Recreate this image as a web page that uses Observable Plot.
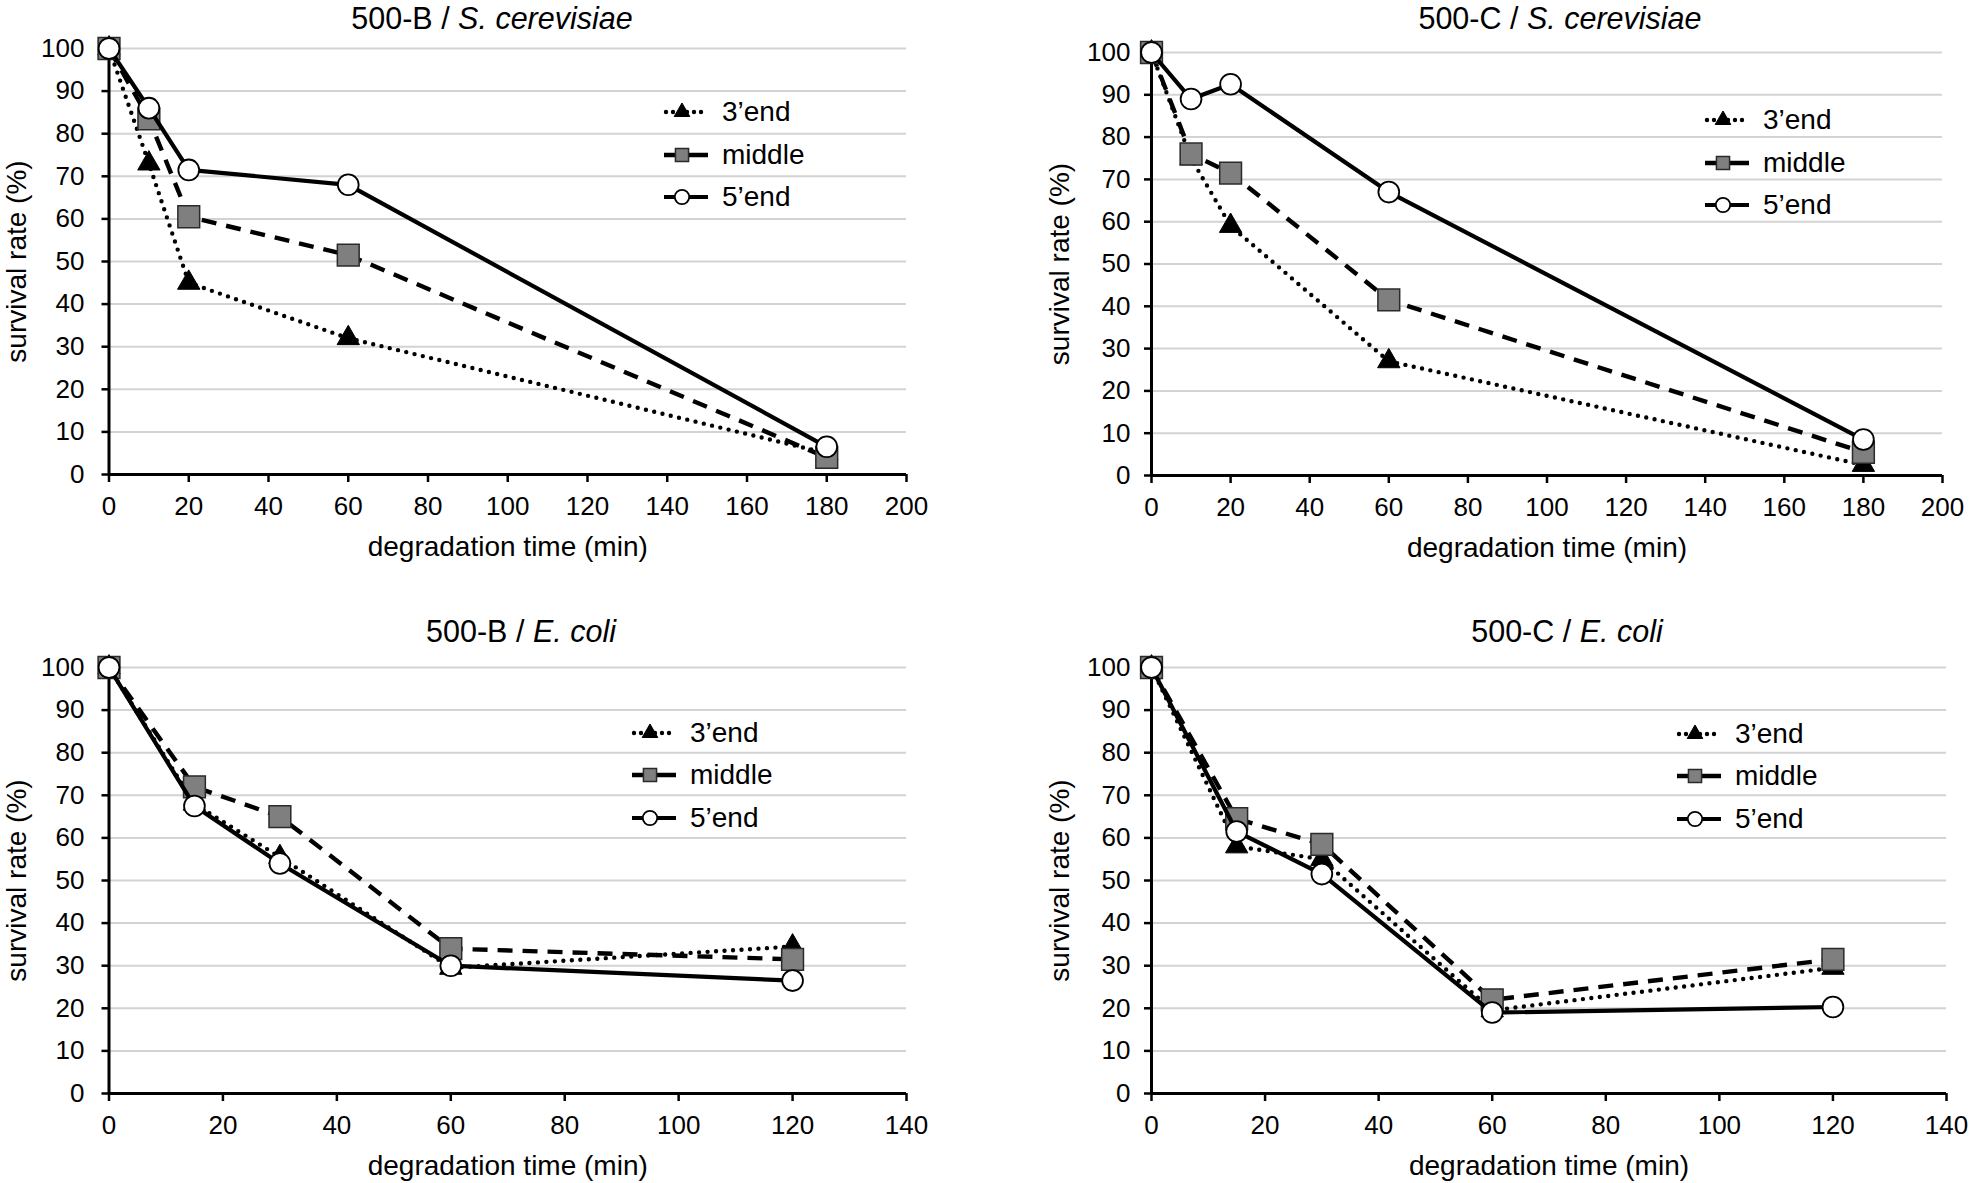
<!DOCTYPE html>
<html>
<head>
<meta charset="utf-8">
<script src="https://cdn.jsdelivr.net/npm/d3@7"></script>
<script src="https://cdn.jsdelivr.net/npm/@observablehq/plot@0.6"></script>
<style>
  html, body { margin: 0; padding: 0; background: #fff; }
  body { font-family: "Liberation Sans", Arial, sans-serif; color: #000; }
  #root { position: relative; width: 1970px; height: 1183px; overflow: hidden; background: #fff; }
  .panel { position: absolute; }
  .title { position: absolute; font-size: 30.5px; line-height: normal; white-space: nowrap; transform: translateX(-50%); }
  .legend { position: absolute; font-size: 28px; }
  .legend .row { display: flex; align-items: center; height: 42.5px; white-space: nowrap; }
  .legend svg { display: block; margin-right: 13px; overflow: visible; }
</style>
</head>
<body>
<div id="root"></div>
<script>
// ---------- data ----------
const seriesNames = ["3’end", "middle", "5’end"];
const yTicks = [0, 10, 20, 30, 40, 50, 60, 70, 80, 90, 100];
const xTicksSc = [0, 20, 40, 60, 80, 100, 120, 140, 160, 180, 200];
const xTicksEc = [0, 20, 40, 60, 80, 100, 120, 140];

const timesSc = [0, 10, 20, 60, 180];
const timesEc = [0, 15, 30, 60, 120];

// 500-B / S. cerevisiae
const bSc3 = [100, 73, 45, 32, 5];
const bScM = [100, 83.5, 60.5, 51.5, 4];
const bSc5 = [100, 86, 71.5, 68, 6.5];
// 500-C / S. cerevisiae
const cSc3 = [100, 75, 59, 27, 2.5];
const cScM = [100, 76, 71.5, 41.5, 5.5];
const cSc5 = [100, 89, 92.5, 67, 8.5];
// 500-B / E. coli
const bEc3 = [100, 68, 55.5, 29.5, 34.5];
const bEcM = [100, 72, 65, 34, 31.5];
const bEc5 = [100, 67.5, 54, 30, 26.5];
// 500-C / E. coli
const cEc3 = [100, 58, 55, 19.5, 29.5];
const cEcM = [100, 64.5, 58.5, 22, 31.5];
const cEc5 = [100, 61.5, 51.5, 19, 20.3];

const panelTitles = [
  ["500-B / ", "S. cerevisiae"],
  ["500-C / ", "S. cerevisiae"],
  ["500-B / ", "E. coli"],
  ["500-C / ", "E. coli"]
];
const xLabel = "degradation time (min)";
const yLabel = "survival rate (%)";

// ---------- layout (positions / sizes, kept apart from data) ----------
const layout = [
  {left: 0,   top: 0,   width: 985, height: 590, ml: 108.5, mr: 79, mt: 48, mb: 116, ypad: 17.5, ylab: 103, xlab: 81, tx: 492,  ttop: 1,   lx: 663,  ly: 112},
  {left: 985, top: 0,   width: 985, height: 590, ml: 166,   mr: 28, mt: 52, mb: 115, ypad: 14,   ylab: 102, xlab: 81, tx: 1560, ttop: 1,   lx: 1704, ly: 120},
  {left: 0,   top: 590, width: 985, height: 593, ml: 108.5, mr: 79, mt: 77, mb: 90,  ypad: 17.5, ylab: 103, xlab: 81, tx: 521,  ttop: 614, lx: 631,  ly: 732.5},
  {left: 985, top: 590, width: 985, height: 593, ml: 166,   mr: 24, mt: 77, mb: 90,  ypad: 14,   ylab: 102, xlab: 81, tx: 1567, ttop: 614, lx: 1676, ly: 733.5}
];

const panelData = [
  {times: timesSc, xTicks: xTicksSc, xmax: 200, s: [bSc3, bScM, bSc5]},
  {times: timesSc, xTicks: xTicksSc, xmax: 200, s: [cSc3, cScM, cSc5]},
  {times: timesEc, xTicks: xTicksEc, xmax: 140, s: [bEc3, bEcM, bEc5]},
  {times: timesEc, xTicks: xTicksEc, xmax: 140, s: [cEc3, cEcM, cEc5]}
];

// series styles
const styles = [
  {dash: "0 8.5", cap: "round", lw: 4.4, symbol: "triangle", r: 8.3,  fill: "#000",    stroke: "#000",    sw: 1,   lr: 5.8},
  {dash: "15 10", cap: "butt",  lw: 4.4, symbol: "square",   r: 12.3, fill: "#7f7f7f", stroke: "#2a2a2a", sw: 1.5, lr: 7.4},
  {dash: null,    cap: "butt",  lw: 4.2, symbol: "circle",   r: 10.4, fill: "#fff",    stroke: "#000",    sw: 1.8, lr: 7.2}
];

const root = document.getElementById("root");
const FONT = "'Liberation Sans', Arial, sans-serif";

panelData.forEach((pd, i) => {
  const L = layout[i];
  const marks = [
    Plot.gridY({ticks: yTicks, stroke: "#d3d3d3", strokeOpacity: 1, strokeWidth: 2}),
    Plot.axisY({ticks: yTicks, tickSize: 7, tickPadding: L.ypad, fontSize: 26, strokeWidth: 2.5, label: null}),
    Plot.axisY({ticks: [], tickSize: 0, label: yLabel, labelAnchor: "center", labelArrow: "none", labelOffset: L.ylab, fontSize: 28}),
    Plot.axisX({ticks: pd.xTicks, tickSize: 8, tickPadding: 14, fontSize: 26, strokeWidth: 2.5, label: null}),
    Plot.axisX({ticks: [], tickSize: 0, label: xLabel, labelAnchor: "center", labelArrow: "none", labelOffset: L.xlab, fontSize: 28}),
    Plot.ruleY([0], {stroke: "#000", strokeWidth: 3}),
    Plot.ruleX([0], {stroke: "#000", strokeWidth: 3})
  ];
  pd.s.forEach((vals, k) => {
    const st = styles[k];
    const rows = pd.times.map((t, j) => ({t, v: vals[j], series: seriesNames[k]}));
    marks.push(Plot.line(rows, {x: "t", y: "v", stroke: "#000", strokeWidth: st.lw, strokeDasharray: st.dash ?? undefined, strokeLinecap: st.cap, strokeLinejoin: "round"}));
    marks.push(Plot.dot(rows, {x: "t", y: "v", symbol: st.symbol, r: st.r, fill: st.fill, stroke: st.stroke, strokeWidth: st.sw}));
  });

  const chart = Plot.plot({
    width: L.width,
    height: L.height,
    marginLeft: L.ml,
    marginRight: L.mr,
    marginTop: L.mt,
    marginBottom: L.mb,
    x: {domain: [0, pd.xmax]},
    y: {domain: [0, 100]},
    style: {fontFamily: FONT, fontSize: "26px", color: "#000", background: "transparent", overflow: "visible"},
    marks
  });
  const holder = document.createElement("div");
  holder.className = "panel";
  holder.style.left = L.left + "px";
  holder.style.top = L.top + "px";
  holder.appendChild(chart);
  root.appendChild(holder);

  // title
  const t = document.createElement("div");
  t.className = "title";
  t.style.left = L.tx + "px";
  t.style.top = L.ttop + "px";
  t.append(document.createTextNode(panelTitles[i][0]));
  const it = document.createElement("i");
  it.textContent = panelTitles[i][1];
  t.append(it);
  root.appendChild(t);

  // legend
  const lg = document.createElement("div");
  lg.className = "legend";
  lg.style.left = L.lx + "px";
  lg.style.top = (L.ly - 21.25) + "px";
  seriesNames.forEach((name, k) => {
    const st = styles[k];
    const row = document.createElement("div");
    row.className = "row";
    const svg = d3.create("svg").attr("width", 46).attr("height", 24);
    const line = svg.append("line").attr("x1", k === 0 ? 3 : 1).attr("x2", 45).attr("y1", 12).attr("y2", 12)
      .attr("stroke", "#000").attr("stroke-width", st.lw);
    if (k === 0) line.attr("stroke-dasharray", "0 7").attr("stroke-linecap", "round");
    const sym = st.symbol === "triangle" ? d3.symbolTriangle : st.symbol === "square" ? d3.symbolSquare : d3.symbolCircle;
    svg.append("path").attr("transform", "translate(19,12)")
      .attr("d", d3.symbol(sym, Math.PI * st.lr * st.lr)())
      .attr("fill", st.fill).attr("stroke", st.stroke).attr("stroke-width", st.sw);
    row.appendChild(svg.node());
    const span = document.createElement("span");
    span.textContent = name;
    row.appendChild(span);
    lg.appendChild(row);
  });
  root.appendChild(lg);
});
</script>
</body>
</html>
